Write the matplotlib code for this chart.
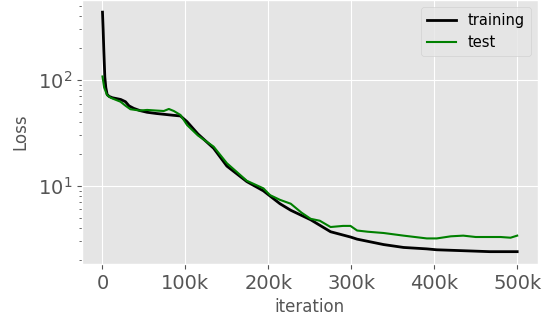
import matplotlib
matplotlib.use("Agg")
from matplotlib import pyplot as plt
from matplotlib.ticker import FuncFormatter

# training loss
train_iter = [0, 800, 1600, 2800, 4000, 5600, 8000, 12000, 18000, 22000, 27700, 32000,
              37700, 45000, 53800, 65000, 73900, 85000, 94000, 102000, 115000, 134000,
              150000, 174000, 194000, 214000, 227000, 251000, 275000, 299000, 307000,
              339000, 363000, 391000, 403000, 435000, 467000, 492000, 500000]
train_loss = [437, 300, 192, 107, 85, 73, 70, 68, 66.5, 65.5, 62.4, 57,
              54, 51.5, 49.6, 48.3, 47.5, 46.5, 45.8, 40.4, 31, 22.7,
              15.4, 11.0, 9.0, 6.8, 5.9, 4.8, 3.7, 3.3, 3.15,
              2.8, 2.63, 2.55, 2.5, 2.45, 2.4, 2.4, 2.4]

# test loss
test_iter = [0, 2000, 5600, 10000, 15000, 21700, 28000, 33700, 45000, 53800, 65000,
             73900, 80000, 86000, 94000, 102000, 115000, 134000, 150000, 174000,
             194000, 202000, 214000, 227000, 240000, 251000, 262000, 275000, 290000,
             299000, 307000, 320000, 339000, 363000, 391000, 403000, 420000, 435000,
             450000, 467000, 480000, 492000, 500000]
test_loss = [108, 85, 72, 68, 65.5, 62.4, 57, 53, 51.5, 52.2, 51.5,
             51.0, 53.3, 51, 46.8, 37.6, 30, 23.5, 16.4, 11.2,
             9.5, 8.2, 7.4, 6.8, 5.6, 4.9, 4.7, 4.1, 4.2,
             4.2, 3.8, 3.7, 3.6, 3.4, 3.2, 3.2, 3.35, 3.4,
             3.3, 3.3, 3.3, 3.25, 3.4]


def k_format(x, pos):
    if x == 0:
        return "0"
    return f"{int(x / 1000)}k"


plt.style.use("ggplot")
fig, ax = plt.subplots(1, 1, figsize=(5.45, 3.23), dpi=100)
fig.subplots_adjust(left=0.150, right=0.987, bottom=0.183, top=1.0)

ax.plot(train_iter, train_loss, color="black", linewidth=2, label="training")
ax.plot(test_iter, test_loss, color="green", linewidth=1.5, label="test")
ax.set_yscale("log")
ax.set_ylim(1.84, 569)
ax.set_xlim(-25000, 525000)
ax.xaxis.set_major_formatter(FuncFormatter(k_format))
ax.tick_params(axis="both", which="major", labelsize=14)
ax.set_xlabel("iteration", fontsize=12)
ax.set_ylabel("Loss", fontsize=12, labelpad=6)
ax.legend(loc="upper right", prop={"size": 10.5})

plt.savefig("out.png")
